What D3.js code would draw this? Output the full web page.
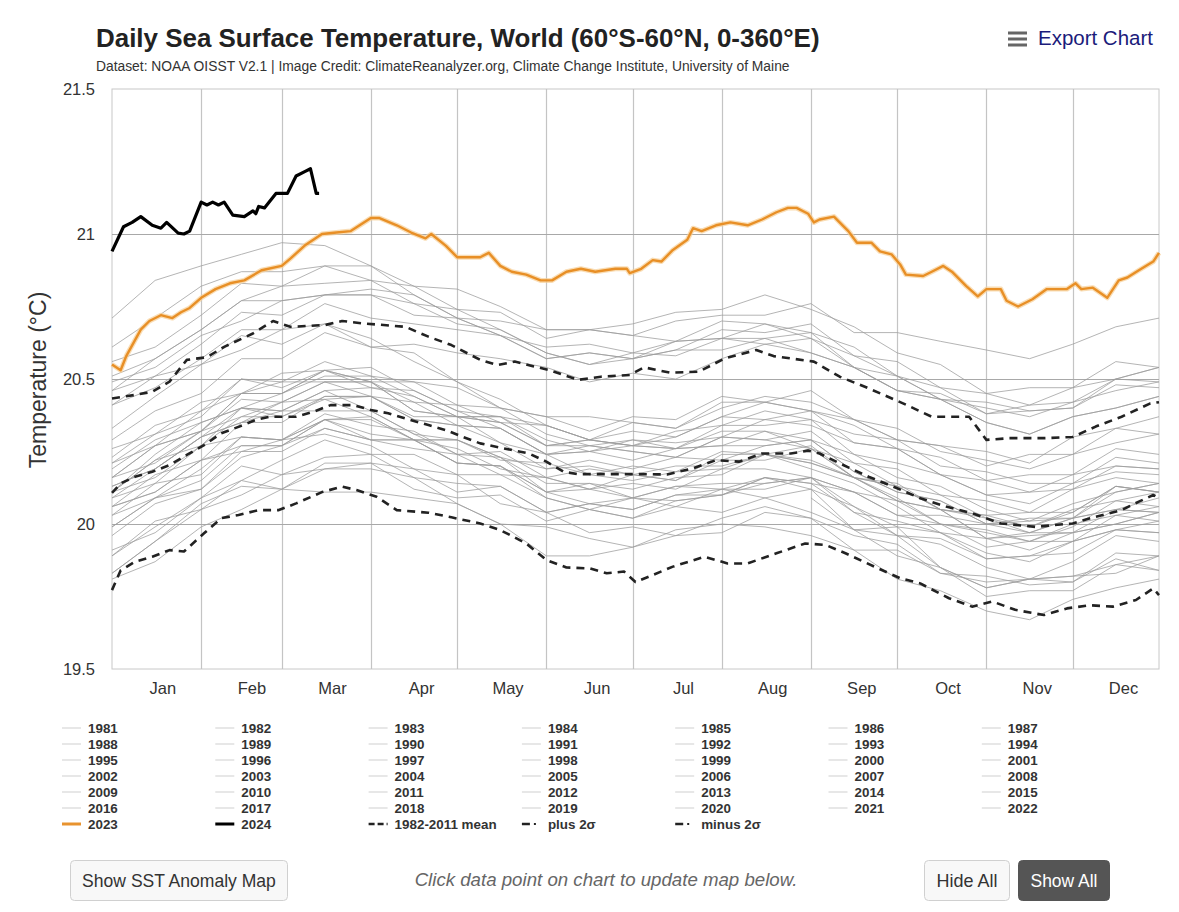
<!DOCTYPE html>
<html><head><meta charset="utf-8">
<script src="https://cdn.jsdelivr.net/npm/d3@7"></script>
<style>
html,body{margin:0;padding:0;background:#fff;}
svg{display:block;font-family:"Liberation Sans",Arial,Helvetica,sans-serif;}
</style></head>
<body>
<svg id="chart" width="1179" height="912"></svg>
<script>
// ---------- DATA ----------
const monthNames = ["Jan","Feb","Mar","Apr","May","Jun","Jul","Aug","Sep","Oct","Nov","Dec"];
const monthStarts = [0,31,59,90,120,151,181,212,243,273,304,334];
const yTicks = [19.5,20,20.5,21,21.5];

const grayDays = [0,15,31,45,59,74,90,105,120,135,151,166,181,196,212,227,243,258,273,288,304,319,334,349,364];
const grayYears = [1981,1982,1983,1984,1985,1986,1987,1988,1989,1990,1991,1992,1993,1994,1995,1996,1997,1998,1999,2000,2001,2002,2003,2004,2005,2006,2007,2008,2009,2010,2011,2012,2013,2014,2015,2016,2017,2018,2019,2020,2021,2022];
const v1981 = [null,null,null,null,null,null,null,null,null,null,null,null,null,null,null,null,20.09,19.98,19.99,19.85,19.78,19.81,19.82,19.83,19.89];
const v1982 = [19.83,19.94,20.07,20.13,20.12,20.21,20.21,20.12,20.09,20.10,20.01,20.05,20.02,20.08,20.10,20.16,20.14,20.11,20.03,20.03,20.00,20.02,20.02,20.13,20.11];
const v1983 = [20.11,20.24,20.35,20.40,20.39,20.46,20.39,20.31,20.24,20.23,20.11,20.07,20.09,20.06,20.12,20.09,20.12,19.98,19.96,19.85,19.78,19.81,19.80,19.88,19.84];
const v1984 = [19.89,20.01,20.05,20.15,20.12,20.19,20.19,20.16,20.07,20.00,19.99,19.95,19.92,19.98,20.00,19.99,19.96,19.91,19.81,19.77,19.70,19.67,19.74,19.78,19.81];
const v1985 = [19.81,19.87,19.99,20.05,20.12,20.11,20.11,20.09,20.07,20.00,19.89,19.89,19.92,19.96,19.97,20.04,20.02,19.91,19.91,19.83,19.82,19.79,19.80,19.90,19.89];
const v1986 = [19.91,19.97,20.09,20.20,20.17,20.23,20.24,20.16,20.14,20.13,20.04,20.07,20.05,20.10,20.12,20.12,20.16,20.11,20.03,20.00,19.98,19.94,19.99,20.08,20.06];
const v1987 = [20.11,20.22,20.32,20.37,20.42,20.49,20.44,20.36,20.34,20.28,20.19,20.22,20.19,20.23,20.22,20.27,20.29,20.18,20.11,20.08,20.00,19.97,20.02,20.05,20.09];
const v1988 = [20.13,20.19,20.30,20.40,20.37,20.43,20.37,20.29,20.21,20.20,20.09,20.05,20.02,20.06,20.04,20.09,20.04,19.98,19.89,19.85,19.75,19.77,19.77,19.86,19.84];
const v1989 = [19.83,19.94,20.05,20.10,20.17,20.19,20.21,20.19,20.11,20.13,20.04,20.07,20.05,20.10,20.10,20.14,20.16,20.04,20.01,19.97,19.88,19.89,19.94,19.98,20.01];
const v1990 = [20.03,20.14,20.17,20.30,20.29,20.38,20.34,20.32,20.24,20.25,20.16,20.19,20.17,20.15,20.22,20.22,20.26,20.16,20.08,20.05,19.95,19.97,19.97,20.05,20.04];
const v1991 = [20.06,20.11,20.22,20.25,20.29,20.36,20.29,20.26,20.24,20.17,20.16,20.12,20.17,20.15,20.24,20.24,20.22,20.16,20.14,20.05,20.02,19.97,20.02,20.05,20.04];
const v1992 = [20.09,20.14,20.27,20.30,20.29,20.31,20.27,20.19,20.17,20.07,20.04,19.97,19.99,19.96,20.02,20.06,20.02,19.96,19.93,19.83,19.80,19.81,19.82,19.86,19.89];
const v1993 = [19.89,19.99,20.09,20.15,20.22,20.29,20.24,20.24,20.17,20.17,20.09,20.05,20.09,20.08,20.10,20.16,20.14,20.04,19.96,19.95,19.88,19.89,19.90,19.98,19.97];
const v1994 = [19.99,20.09,20.12,20.23,20.27,20.33,20.29,20.29,20.21,20.20,20.11,20.14,20.12,20.16,20.17,20.24,20.21,20.16,20.13,20.05,20.03,20.04,20.04,20.13,20.11];
const v1995 = [20.13,20.19,20.30,20.35,20.39,20.39,20.39,20.31,20.29,20.23,20.14,20.14,20.09,20.13,20.12,20.16,20.12,20.06,19.96,19.93,19.85,19.81,19.87,19.96,19.94];
const v1996 = [19.96,20.07,20.12,20.25,20.25,20.33,20.29,20.29,20.21,20.20,20.11,20.12,20.14,20.12,20.19,20.19,20.16,20.11,20.08,20.00,19.92,19.94,19.94,20.03,20.01];
const v1997 = [20.06,20.17,20.22,20.35,20.35,20.44,20.44,20.37,20.37,20.35,20.27,20.29,20.32,20.30,20.37,20.42,20.39,20.36,20.29,20.27,20.25,20.21,20.30,20.33,20.37];
const v1998 = [20.41,20.51,20.55,20.65,20.62,20.69,20.61,20.59,20.49,20.43,20.34,20.29,20.27,20.26,20.27,20.32,20.26,20.16,20.08,20.05,19.95,19.96,19.97,20.00,20.04];
const v1999 = [20.06,20.11,20.22,20.27,20.27,20.36,20.31,20.29,20.26,20.19,20.16,20.12,20.09,20.13,20.14,20.14,20.16,20.06,19.99,19.97,19.90,19.87,19.94,19.98,19.97];
const v2000 = [19.99,20.09,20.15,20.27,20.27,20.36,20.36,20.29,20.29,20.22,20.21,20.17,20.15,20.18,20.25,20.24,20.21,20.16,20.09,20.00,19.97,19.94,20.00,20.03,20.06];
const v2001 = [20.09,20.19,20.30,20.35,20.42,20.43,20.44,20.42,20.34,20.33,20.24,20.27,20.25,20.23,20.30,20.29,20.32,20.21,20.19,20.10,20.08,20.04,20.12,20.16,20.14];
const v2002 = [20.16,20.27,20.32,20.45,20.45,20.53,20.49,20.42,20.41,20.35,20.34,20.29,20.27,20.32,20.34,20.39,20.36,20.31,20.29,20.20,20.18,20.14,20.14,20.23,20.21];
const v2003 = [20.23,20.34,20.39,20.50,20.47,20.53,20.47,20.46,20.39,20.33,20.24,20.25,20.27,20.26,20.34,20.34,20.36,20.24,20.21,20.17,20.10,20.07,20.14,20.18,20.17];
const v2004 = [20.19,20.29,20.35,20.40,20.45,20.51,20.51,20.44,20.37,20.37,20.29,20.25,20.29,20.28,20.30,20.36,20.34,20.28,20.26,20.17,20.10,20.11,20.12,20.20,20.19];
const v2005 = [20.21,20.27,20.39,20.45,20.52,20.53,20.54,20.46,20.39,20.37,20.27,20.27,20.29,20.26,20.32,20.32,20.29,20.24,20.16,20.13,20.05,20.01,20.07,20.11,20.14];
const v2006 = [20.16,20.21,20.32,20.43,20.42,20.49,20.49,20.39,20.37,20.35,20.27,20.29,20.27,20.30,20.37,20.36,20.39,20.28,20.26,20.23,20.15,20.17,20.17,20.26,20.24];
const v2007 = [20.26,20.31,20.42,20.45,20.49,20.49,20.49,20.39,20.37,20.28,20.24,20.17,20.20,20.18,20.19,20.24,20.19,20.14,20.06,19.97,19.95,19.91,19.97,20.00,20.04];
const v2008 = [20.03,20.09,20.19,20.30,20.29,20.36,20.37,20.29,20.29,20.23,20.19,20.20,20.17,20.20,20.20,20.24,20.27,20.16,20.13,20.05,20.03,19.99,20.04,20.13,20.11];
const v2009 = [20.11,20.22,20.27,20.40,20.39,20.46,20.47,20.44,20.37,20.37,20.34,20.29,20.35,20.33,20.42,20.42,20.46,20.36,20.29,20.27,20.20,20.24,20.24,20.33,20.31];
const v2010 = [20.33,20.44,20.55,20.60,20.67,20.69,20.64,20.56,20.49,20.40,20.31,20.27,20.25,20.23,20.30,20.29,20.26,20.21,20.13,20.10,20.02,19.99,20.05,20.08,20.11];
const v2011 = [20.11,20.16,20.27,20.37,20.37,20.44,20.44,20.36,20.34,20.33,20.24,20.25,20.22,20.26,20.27,20.27,20.29,20.18,20.11,20.08,20.00,20.01,20.02,20.11,20.14];
const v2012 = [20.16,20.27,20.32,20.45,20.45,20.53,20.49,20.49,20.41,20.40,20.37,20.32,20.37,20.36,20.44,20.42,20.39,20.34,20.26,20.17,20.15,20.11,20.17,20.20,20.19];
const v2013 = [20.21,20.31,20.37,20.50,20.49,20.56,20.51,20.49,20.47,20.40,20.37,20.37,20.35,20.33,20.40,20.44,20.42,20.36,20.33,20.25,20.22,20.19,20.24,20.28,20.31];
const v2014 = [20.29,20.39,20.45,20.57,20.57,20.66,20.61,20.62,20.59,20.57,20.54,20.49,20.52,20.50,20.57,20.62,20.59,20.54,20.46,20.45,20.38,20.41,20.42,20.46,20.49];
const v2015 = [20.49,20.54,20.65,20.70,20.77,20.79,20.81,20.79,20.71,20.70,20.67,20.67,20.65,20.70,20.72,20.72,20.76,20.66,20.66,20.63,20.60,20.57,20.62,20.68,20.71];
const v2016 = [20.71,20.84,20.89,20.93,20.97,20.96,20.89,20.79,20.71,20.65,20.57,20.59,20.57,20.63,20.64,20.69,20.64,20.54,20.46,20.43,20.35,20.31,20.37,20.40,20.44];
const v2017 = [20.46,20.57,20.67,20.77,20.82,20.83,20.84,20.82,20.74,20.73,20.64,20.67,20.65,20.63,20.70,20.69,20.66,20.61,20.51,20.47,20.38,20.39,20.40,20.48,20.47];
const v2018 = [20.41,20.47,20.57,20.67,20.67,20.76,20.71,20.69,20.67,20.65,20.57,20.59,20.57,20.60,20.67,20.66,20.69,20.58,20.56,20.47,20.45,20.41,20.47,20.50,20.54];
const v2019 = [20.56,20.61,20.72,20.83,20.82,20.89,20.89,20.82,20.81,20.75,20.67,20.67,20.69,20.73,20.74,20.79,20.74,20.68,20.59,20.55,20.45,20.47,20.47,20.56,20.54];
const v2020 = [20.61,20.71,20.82,20.87,20.87,20.89,20.84,20.76,20.74,20.67,20.59,20.55,20.57,20.60,20.60,20.64,20.59,20.54,20.46,20.43,20.35,20.31,20.37,20.40,20.44];
const v2021 = [20.46,20.51,20.62,20.73,20.72,20.79,20.79,20.72,20.71,20.65,20.61,20.62,20.59,20.63,20.64,20.64,20.66,20.54,20.51,20.43,20.42,20.39,20.40,20.50,20.49];
const v2022 = [20.51,20.57,20.67,20.77,20.77,20.79,20.79,20.76,20.69,20.67,20.59,20.55,20.59,20.58,20.64,20.62,20.64,20.58,20.51,20.43,20.40,20.37,20.42,20.50,20.54];
const grayValues = [v1981,v1982,v1983,v1984,v1985,v1986,v1987,v1988,v1989,v1990,v1991,v1992,v1993,v1994,v1995,v1996,v1997,v1998,v1999,v2000,v2001,v2002,v2003,v2004,v2005,v2006,v2007,v2008,v2009,v2010,v2011,v2012,v2013,v2014,v2015,v2016,v2017,v2018,v2019,v2020,v2021,v2022];

const days2023 = [0,3,5,10,13,17,21,24,27,31,36,41,46,52,59,62,67,73,78,83,90,93,99,104,109,111,116,120,128,131,135,139,144,149,153,158,163,168,175,179,180,184,188,191,195,200,202,205,210,215,221,226,231,235,238,242,244,246,251,254,256,259,264,267,271,274,276,282,285,289,292,297,301,304,309,311,315,320,325,332,335,337,341,346,350,353,357,362,364];
const vals2023 = [20.55,20.53,20.58,20.67,20.70,20.72,20.71,20.73,20.745,20.78,20.81,20.83,20.84,20.875,20.89,20.915,20.96,21.0,21.005,21.01,21.055,21.055,21.03,21.005,20.985,21.0,20.96,20.92,20.92,20.935,20.89,20.87,20.86,20.84,20.84,20.87,20.88,20.87,20.88,20.88,20.865,20.88,20.91,20.905,20.945,20.98,21.02,21.01,21.03,21.04,21.03,21.05,21.075,21.09,21.09,21.07,21.04,21.05,21.06,21.03,21.01,20.97,20.97,20.94,20.93,20.895,20.86,20.855,20.87,20.89,20.87,20.82,20.785,20.81,20.81,20.77,20.75,20.775,20.81,20.81,20.83,20.81,20.815,20.78,20.84,20.85,20.875,20.905,20.935];

const days2024 = [0,4,7,10,14,17,19,23,25,27,31,33,35,37,39,42,46,49,50,51,53,57,61,64,67,69,71,72];
const vals2024 = [20.94,21.025,21.04,21.06,21.03,21.02,21.04,21.003,21.0,21.01,21.11,21.10,21.11,21.10,21.11,21.065,21.06,21.08,21.07,21.095,21.09,21.14,21.14,21.2,21.215,21.225,21.14,21.14];

const daysMean = [0,3,8,14,20,26,32,38,44,50,55,64,70,76,84,90,96,102,110,116,122,128,136,145,151,157,162,183,193,202,210,218,226,236,242,246,253,263,273,281,290,299,309,321,334,342,351,357,362,364];
const valsMean = [20.107,20.14,20.163,20.18,20.203,20.238,20.272,20.313,20.335,20.359,20.37,20.37,20.387,20.41,20.41,20.393,20.382,20.364,20.341,20.324,20.30,20.278,20.261,20.243,20.215,20.18,20.172,20.172,20.171,20.192,20.22,20.215,20.243,20.243,20.253,20.243,20.209,20.163,20.123,20.089,20.06,20.037,20.002,19.99,20.002,20.025,20.048,20.077,20.10,20.089];

const daysPlus = [0,8,14,20,26,33,39,49,56,62,74,80,87,102,110,118,128,134,140,146,152,162,170,180,185,194,204,213,224,230,244,253,263,275,285,298,304,312,324,334,342,351,361,364];
const valsPlus = [20.433,20.445,20.456,20.491,20.566,20.575,20.611,20.657,20.70,20.68,20.686,20.70,20.692,20.68,20.646,20.617,20.566,20.548,20.56,20.545,20.531,20.497,20.508,20.514,20.54,20.522,20.525,20.571,20.60,20.579,20.56,20.508,20.468,20.416,20.37,20.37,20.29,20.296,20.296,20.30,20.336,20.37,20.416,20.42];

const daysMinus = [0,3,8,14,20,25,32,38,44,51,58,64,73,80,85,92,99,110,118,128,135,144,151,158,166,172,178,182,187,195,206,214,221,231,241,248,255,265,274,281,291,299,306,314,324,332,340,348,356,362,364];
const valsMinus = [19.772,19.84,19.87,19.887,19.91,19.905,19.968,20.02,20.031,20.048,20.048,20.071,20.11,20.129,20.117,20.094,20.048,20.039,20.023,20.002,19.979,19.933,19.876,19.85,19.847,19.83,19.836,19.80,19.82,19.853,19.887,19.864,19.864,19.899,19.933,19.928,19.899,19.853,19.813,19.795,19.744,19.715,19.733,19.704,19.686,19.709,19.72,19.715,19.738,19.778,19.755];

const legendExtra = ["2023","2024","1982-2011 mean","plus 2σ","minus 2σ"];

// ---------- DRAW ----------
const svg = d3.select("#chart");
const L = 112, R = 1159, T = 89, B = 669;
const x = d3.scaleLinear().domain([0,364]).range([L,R]);
const y = d3.scaleLinear().domain([19.5,21.5]).range([B,T]);

function fit(sel, target, base){
  const w = sel.node().getComputedTextLength();
  sel.attr("font-size", base*target/w);
  return sel;
}

// title
fit(svg.append("text").attr("x",96).attr("y",47).attr("font-size",22).attr("font-weight","bold").attr("fill","#222")
  .text("Daily Sea Surface Temperature, World (60°S-60°N, 0-360°E)"), 724, 22);
fit(svg.append("text").attr("x",96).attr("y",71).attr("font-size",13).attr("fill","#333")
  .text("Dataset: NOAA OISST V2.1 | Image Credit: ClimateReanalyzer.org, Climate Change Institute, University of Maine"), 694, 13);
// export
[33,39,45].forEach(yy=>svg.append("rect").attr("x",1008).attr("y",yy-1.5).attr("width",19).attr("height",3).attr("fill","#666"));
fit(svg.append("text").attr("x",1038).attr("y",45).attr("font-size",20).attr("fill","#1b1b7a").text("Export Chart"), 115, 20);

// plot frame and grid
svg.append("rect").attr("x",L).attr("y",T).attr("width",R-L).attr("height",B-T).attr("fill","none").attr("stroke","#c8c8c8").attr("stroke-width",1);
const grid = svg.append("g");
grid.selectAll("line.v").data(monthStarts.slice(1)).join("line")
  .attr("x1",d=>Math.round(x(d))+0.5).attr("x2",d=>Math.round(x(d))+0.5).attr("y1",T).attr("y2",B)
  .attr("stroke","#c4c4c4").attr("stroke-width",1.2);
grid.selectAll("line.h").data([20,20.5,21]).join("line")
  .attr("x1",L).attr("x2",R).attr("y1",d=>Math.round(y(d))+0.5).attr("y2",d=>Math.round(y(d))+0.5)
  .attr("stroke","#a8a8a8").attr("stroke-width",1);

// axes labels
const yAxis = d3.axisLeft(y).tickValues(yTicks).tickSize(0).tickPadding(17).tickFormat(d=>String(d));
const ga = svg.append("g").attr("transform",`translate(${L},0)`).call(yAxis);
ga.select(".domain").remove();
ga.selectAll("text").attr("font-size",16.5).attr("fill","#333").attr("font-family","Liberation Sans, Arial, sans-serif");

const xLab = d3.axisBottom(x).tickValues(monthStarts.map(d=>d+17.5)).tickSize(0).tickPadding(13).tickFormat((d,i)=>monthNames[i]);
const gx = svg.append("g").attr("transform",`translate(0,${B})`).call(xLab);
gx.select(".domain").remove();
gx.selectAll("text").attr("font-size",16.5).attr("fill","#333").attr("font-family","Liberation Sans, Arial, sans-serif");

svg.append("text").attr("transform","translate(46,380) rotate(-90)").attr("text-anchor","middle")
  .attr("font-size",23).attr("fill","#333").text("Temperature (°C)");

// lines
const plot = svg.append("g");
const lineGray = d3.line().defined(d=>d[1]!=null).x(d=>x(d[0])).y(d=>y(d[1]));
grayValues.forEach((vals,i)=>{
  plot.append("path").datum(grayDays.map((d,j)=>[d,vals[j]]))
    .attr("d",lineGray).attr("fill","none").attr("stroke","#9c9c9c").attr("stroke-width",0.9).attr("stroke-opacity",0.85);
});
const line = d3.line().x(d=>x(d[0])).y(d=>y(d[1]));
function series(days, vals){ return days.map((d,i)=>[d,vals[i]]); }

[[daysMean,valsMean],[daysPlus,valsPlus],[daysMinus,valsMinus]].forEach(([ds,vs])=>{
  plot.append("path").datum(series(ds,vs)).attr("d",line).attr("fill","none")
    .attr("stroke","#222").attr("stroke-width",2.6).attr("stroke-dasharray","8,6").attr("stroke-linejoin","round");
});

const s23 = series(days2023, vals2023);
plot.append("path").datum(s23).attr("d",line).attr("fill","none").attr("stroke","#f6cf95").attr("stroke-width",5).attr("stroke-opacity",0.7).attr("stroke-linejoin","round");
plot.append("path").datum(s23).attr("d",line).attr("fill","none").attr("stroke","#e88f26").attr("stroke-width",2.4).attr("stroke-linejoin","round");

plot.append("path").datum(series(days2024, vals2024)).attr("d",line).attr("fill","none")
  .attr("stroke","#000").attr("stroke-width",3.2).attr("stroke-linejoin","round");

// legend
const colX = d3.range(7).map(i=>88 + i*153.3);
const rowY = d3.range(7).map(i=>728 + i*16);
const lg = svg.append("g").attr("font-size",13.4).attr("font-weight","bold").attr("fill","#333");
grayYears.forEach((yr,i)=>{
  const cx = colX[i%7], cy = rowY[Math.floor(i/7)];
  lg.append("line").attr("x1",cx-26).attr("x2",cx-7).attr("y1",cy).attr("y2",cy).attr("stroke","#cfcfcf").attr("stroke-width",1);
  lg.append("text").attr("x",cx).attr("y",cy+4.5).text(yr);
});
legendExtra.forEach((lab,i)=>{
  const cx = colX[i], cy = rowY[6];
  if(i===0) lg.append("line").attr("x1",cx-26).attr("x2",cx-7).attr("y1",cy).attr("y2",cy).attr("stroke","#e8932f").attr("stroke-width",3);
  else if(i===1) lg.append("line").attr("x1",cx-26).attr("x2",cx-7).attr("y1",cy).attr("y2",cy).attr("stroke","#000").attr("stroke-width",3);
  else if(i===2) lg.append("line").attr("x1",cx-26).attr("x2",cx-7).attr("y1",cy).attr("y2",cy).attr("stroke","#222").attr("stroke-width",2.5).attr("stroke-dasharray","6,3");
  else { lg.append("line").attr("x1",cx-26).attr("x2",cx-18).attr("y1",cy).attr("y2",cy).attr("stroke","#222").attr("stroke-width",2.5);
         lg.append("line").attr("x1",cx-14).attr("x2",cx-12).attr("y1",cy).attr("y2",cy).attr("stroke","#222").attr("stroke-width",2); }
  lg.append("text").attr("x",cx).attr("y",cy+4.5).text(lab);
});

// buttons
function button(x0,y0,w,h,label,dark,tw){
  const g = svg.append("g");
  g.append("rect").attr("x",x0).attr("y",y0).attr("width",w).attr("height",h).attr("rx",4)
    .attr("fill",dark?"#555":"#f8f8f8").attr("stroke",dark?"#555":"#d0d0d0");
  fit(g.append("text").attr("x",x0+w/2).attr("y",y0+h/2+6).attr("text-anchor","middle").attr("font-size",17)
    .attr("fill",dark?"#fff":"#333").text(label), tw, 17);
}
button(70.5,860.5,217,40,"Show SST Anomaly Map",false,194);
button(924.5,860.5,85,40,"Hide All",false,61);
button(1018.5,860.5,91,40,"Show All",true,67);
fit(svg.append("text").attr("x",606).attr("y",886).attr("text-anchor","middle").attr("font-size",17)
  .attr("font-style","italic").attr("fill","#666").text("Click data point on chart to update map below."), 383, 17);
</script>
</body></html>
